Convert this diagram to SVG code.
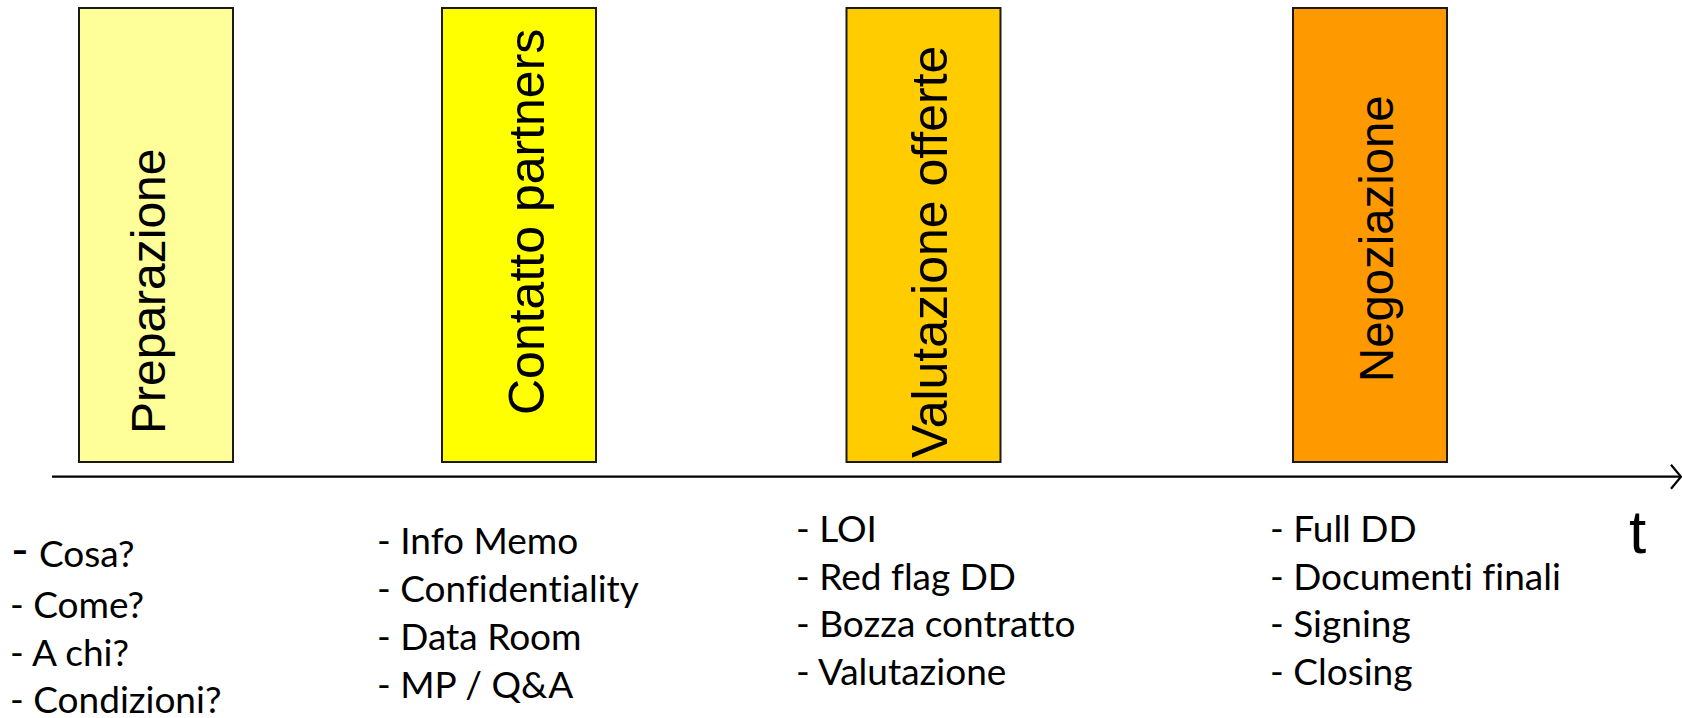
<svg xmlns="http://www.w3.org/2000/svg" width="1682" height="718" viewBox="0 0 1682 718">
  <style>
    .phase { stroke: #1a1a1a; stroke-width: 2; }
    .phase-label { font-family: "Liberation Sans", Arial, sans-serif; font-size: 48px; fill: #000; }
    .item { font-family: Lato, "Open Sans", sans-serif; font-size: 37px; fill: #000; font-variant-ligatures: none; font-feature-settings: "liga" 0, "clig" 0; }
    .axis { stroke: #000; stroke-width: 2.2; fill: none; }
  </style>
  <defs>
    <marker id="arrow-open" markerWidth="12" markerHeight="26" refX="11" refY="13" orient="auto" markerUnits="userSpaceOnUse">
      <path d="M1,1 L11,13 L1,25" fill="none" stroke="#000" stroke-width="2.2"/>
    </marker>
  </defs>

  <rect width="1682" height="718" fill="#fff"/>

  <!-- time axis -->
  <g id="connectors">
    <line class="axis" x1="52" y1="476.7" x2="1681" y2="476.7" marker-end="url(#arrow-open)"/>
  </g>

  <g id="phase-preparazione">
    <rect class="phase" x="79" y="8" width="154" height="454" fill="#ffff99"/>
    <text class="phase-label" transform="translate(165,434) rotate(-90)">Preparazione</text>
  </g>

  <g id="phase-contatto">
    <rect class="phase" x="442" y="8" width="154" height="454" fill="#ffff00"/>
    <text class="phase-label" style="font-size:50px" transform="translate(544,415) rotate(-90)">Contatto partners</text>
  </g>

  <g id="phase-valutazione">
    <rect class="phase" x="846.5" y="8" width="154" height="454" fill="#ffcc00"/>
    <text class="phase-label" style="font-size:50px" transform="translate(947,458) rotate(-90)">Valutazione offerte</text>
  </g>

  <g id="phase-negoziazione">
    <rect class="phase" x="1293" y="8" width="154" height="454" fill="#ff9900"/>
    <text class="phase-label" style="font-size:47.3px" transform="translate(1393,382) rotate(-90)">Negoziazione</text>
  </g>

  <g id="items-preparazione">
    <text class="item" x="11" y="567"><tspan font-size="48">-</tspan><tspan x="39">Cosa?</tspan></text>
    <text class="item" x="10" y="618">- Come?</text>
    <text class="item" x="10" y="666">- A chi?</text>
    <text class="item" x="10" y="713">- Condizioni?</text>
  </g>

  <g id="items-contatto">
    <text class="item" x="377" y="554">- Info Memo</text>
    <text class="item" x="377" y="602">- Confidentiality</text>
    <text class="item" x="377" y="650">- Data Room</text>
    <text class="item" x="377" y="698">- MP / Q&amp;A</text>
  </g>

  <g id="items-valutazione">
    <text class="item" x="796" y="542">- LOI</text>
    <text class="item" x="796" y="590">- Red flag DD</text>
    <text class="item" x="796" y="637">- Bozza contratto</text>
    <text class="item" x="796" y="685">- Valutazione</text>
  </g>

  <g id="items-negoziazione">
    <text class="item" x="1270" y="542">- Full DD</text>
    <text class="item" x="1270" y="590">- Documenti finali</text>
    <text class="item" x="1270" y="637">- Signing</text>
    <text class="item" x="1270" y="685">- Closing</text>
  </g>

  <text id="axis-label" x="1629" y="553" font-family="Liberation Sans, Arial, sans-serif" font-size="62" fill="#000">t</text>
</svg>
